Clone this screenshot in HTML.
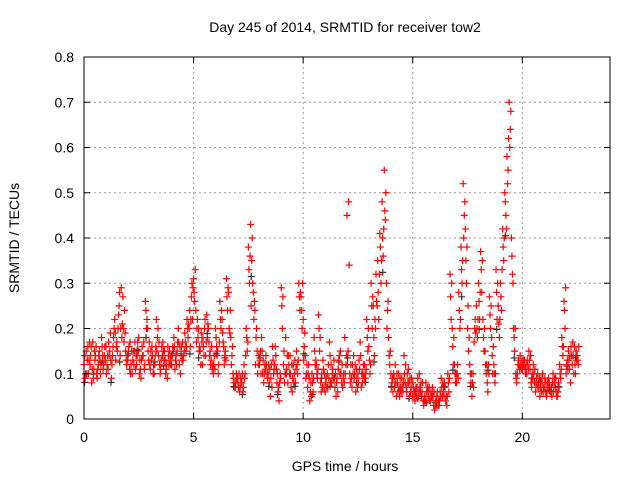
<!DOCTYPE html>
<html><head><meta charset="utf-8"><style>
html,body{margin:0;padding:0;background:#fff;}
svg{display:block;font-family:"Liberation Sans",sans-serif;}
</style></head><body>
<svg id="chart" width="640" height="480" xmlns="http://www.w3.org/2000/svg">
<rect width="640" height="480" fill="#fff"/>
<g id="grid"></g>
<g id="points"></g>
<rect x="84" y="57" width="526" height="362" fill="none" stroke="#000" stroke-width="1"/>
<g id="ticks"></g>
<text x="345" y="32" text-anchor="middle" font-size="14">Day 245 of 2014, SRMTID for receiver tow2</text>
<text x="345" y="471" text-anchor="middle" font-size="14">GPS time / hours</text>
<text transform="translate(19,238) rotate(-90)" text-anchor="middle" font-size="14">SRMTID / TECUs</text>
</svg>
<script>
const xTicks=[0,5,10,15,20];
const yTicks=[0,0.1,0.2,0.3,0.4,0.5,0.6,0.7,0.8];
const yTickLabels=["0","0.1","0.2","0.3","0.4","0.5","0.6","0.7","0.8"];
const tStart=0, tStep=0.1;
const seriesA=[0.12,0.15,0.10,0.14,0.17,0.13,0.09,0.15,0.18,0.12,
0.16,0.11,0.19,0.14,0.22,0.17,0.25,0.29,0.2,0.15,
0.13,0.17,0.1,0.15,0.12,0.18,0.09,0.14,0.26,0.2,
0.12,0.16,0.1,0.22,0.14,0.11,0.17,0.13,0.09,0.15,
0.12,0.18,0.14,0.2,0.1,0.17,0.19,0.22,0.2,0.27,
0.31,0.24,0.18,0.15,0.12,0.2,0.23,0.17,0.13,0.1,
0.2,0.15,0.26,0.22,0.12,0.31,0.28,0.18,0.1,0.07,
0.09,0.06,0.08,0.12,0.2,0.38,0.43,0.3,0.24,0.15,
0.12,0.18,0.08,0.14,0.1,0.05,0.16,0.12,0.08,0.04,
0.29,0.12,0.18,0.08,0.14,0.06,0.1,0.15,0.3,0.27,
0.22,0.14,0.07,0.04,0.1,0.18,0.12,0.23,0.08,0.13,
0.06,0.1,0.17,0.08,0.13,0.05,0.11,0.15,0.07,0.18,
0.45,0.34,0.09,0.14,0.06,0.1,0.17,0.08,0.12,0.22,
0.16,0.3,0.25,0.2,0.35,0.41,0.48,0.55,0.3,0.18,
0.1,0.06,0.12,0.08,0.05,0.09,0.14,0.07,0.11,0.06,
0.08,0.04,0.07,0.1,0.05,0.03,0.08,0.06,0.04,0.07,
0.02,0.05,0.03,0.09,0.06,0.04,0.1,0.32,0.2,0.12,
0.08,0.28,0.38,0.52,0.42,0.2,0.12,0.05,0.17,0.25,
0.3,0.37,0.22,0.15,0.08,0.27,0.18,0.12,0.33,0.25,
0.3,0.42,0.5,0.58,0.7,0.4,0.2,0.1,0.12,0.14,
0.11,0.13,0.1,0.15,0.08,0.12,0.06,0.1,0.05,0.08,
0.07,0.05,0.09,0.06,0.1,0.07,0.05,0.12,0.18,0.26,
0.1,0.15,0.08,0.17,0.12,0.14];
const seriesB=[0.09,0.13,0.17,0.08,0.11,0.16,0.12,0.1,0.14,0.16,
0.12,0.14,0.09,0.18,0.13,0.2,0.14,0.21,0.24,0.12,
0.16,0.12,0.15,0.11,0.17,0.13,0.16,0.11,0.2,0.13,
0.15,0.1,0.14,0.18,0.12,0.16,0.13,0.11,0.14,0.12,
0.16,0.11,0.15,0.12,0.16,0.14,0.15,0.18,0.16,0.22,
0.26,0.2,0.15,0.19,0.16,0.14,0.21,0.15,0.11,0.14,
0.16,0.12,0.2,0.17,0.15,0.24,0.19,0.14,0.08,0.1,
0.07,0.09,0.06,0.1,0.15,0.3,0.35,0.22,0.18,0.12,
0.15,0.1,0.12,0.1,0.08,0.12,0.1,0.14,0.06,0.1,
0.2,0.08,0.11,0.12,0.07,0.12,0.08,0.1,0.24,0.2,
0.16,0.1,0.12,0.08,0.06,0.12,0.09,0.15,0.1,0.07,
0.09,0.12,0.08,0.11,0.07,0.09,0.14,0.08,0.1,0.12,
0.15,0.08,0.12,0.1,0.09,0.13,0.07,0.12,0.09,0.15,
0.1,0.2,0.14,0.26,0.22,0.3,0.36,0.44,0.24,0.12,
0.08,0.09,0.05,0.1,0.07,0.06,0.08,0.1,0.05,0.09,
0.05,0.07,0.05,0.06,0.08,0.05,0.04,0.07,0.05,0.03,
0.04,0.03,0.06,0.05,0.08,0.03,0.06,0.22,0.12,0.08,
0.12,0.2,0.3,0.45,0.3,0.15,0.08,0.1,0.22,0.18,
0.22,0.28,0.15,0.1,0.12,0.2,0.1,0.08,0.22,0.18,
0.24,0.35,0.45,0.55,0.64,0.32,0.15,0.08,0.12,0.11,
0.13,0.1,0.12,0.11,0.1,0.08,0.09,0.07,0.09,0.06,
0.06,0.08,0.07,0.05,0.08,0.06,0.08,0.09,0.14,0.2,
0.13,0.11,0.14,0.1,0.15,0.12];
const seriesC=[0.14,0.1,0.13,0.16,0.09,0.14,0.11,0.13,0.16,0.14,
0.1,0.17,0.13,0.16,0.19,0.15,0.28,0.18,0.17,0.13,
0.15,0.1,0.13,0.17,0.14,0.1,0.13,0.17,0.24,0.15,
0.11,0.14,0.12,0.15,0.17,0.13,0.15,0.1,0.16,0.13,
0.14,0.16,0.12,0.17,0.14,0.13,0.17,0.2,0.24,0.3,
0.28,0.17,0.2,0.12,0.18,0.22,0.18,0.14,0.16,0.12,
0.18,0.1,0.22,0.19,0.14,0.27,0.2,0.12,0.09,0.08,
0.08,0.07,0.1,0.09,0.18,0.33,0.25,0.28,0.12,0.1,
0.13,0.15,0.1,0.12,0.12,0.09,0.13,0.16,0.1,0.08,
0.25,0.15,0.1,0.14,0.1,0.09,0.13,0.12,0.27,0.24,
0.13,0.09,0.1,0.06,0.08,0.15,0.1,0.2,0.06,0.11,
0.08,0.07,0.14,0.1,0.09,0.08,0.13,0.1,0.09,0.1,
0.12,0.1,0.07,0.09,0.11,0.08,0.14,0.1,0.1,0.18,
0.13,0.25,0.18,0.32,0.28,0.38,0.4,0.46,0.2,0.14,
0.07,0.1,0.08,0.06,0.09,0.07,0.1,0.06,0.08,0.07,
0.07,0.06,0.09,0.07,0.06,0.04,0.06,0.05,0.06,0.05,
0.03,0.06,0.04,0.07,0.05,0.05,0.08,0.27,0.16,0.1,
0.1,0.24,0.33,0.4,0.35,0.25,0.1,0.08,0.2,0.2,
0.26,0.33,0.18,0.12,0.06,0.23,0.14,0.1,0.28,0.21,
0.27,0.38,0.48,0.52,0.6,0.36,0.18,0.09,0.13,0.12,
0.12,0.11,0.13,0.13,0.07,0.1,0.08,0.08,0.07,0.1,
0.09,0.06,0.08,0.07,0.06,0.09,0.06,0.1,0.16,0.24,
0.12,0.13,0.16,0.14,0.1,0.13];
const seriesD=[0.1,0.16,0.12,0.11,0.15,0.1,0.14,0.12,0.11,0.13,
0.14,0.15,0.12,0.2,0.16,0.23,0.2,0.27,0.19,0.14,
0.11,0.15,0.12,0.14,0.15,0.11,0.14,0.12,0.22,0.17,
0.13,0.12,0.16,0.2,0.1,0.14,0.15,0.12,0.12,0.14,
0.15,0.13,0.17,0.16,0.13,0.15,0.16,0.21,0.22,0.29,
0.33,0.22,0.16,0.17,0.14,0.17,0.2,0.12,0.12,0.11,
0.14,0.17,0.24,0.16,0.13,0.29,0.24,0.16,0.07,0.09,
0.1,0.08,0.07,0.14,0.17,0.36,0.4,0.26,0.2,0.14,
0.1,0.13,0.11,0.09,0.11,0.07,0.11,0.11,0.07,0.09,
0.27,0.1,0.14,0.1,0.12,0.08,0.11,0.13,0.28,0.3,
0.19,0.12,0.09,0.05,0.09,0.13,0.11,0.18,0.07,0.1,
0.07,0.09,0.12,0.09,0.1,0.06,0.1,0.12,0.08,0.14,
0.48,0.12,0.1,0.12,0.07,0.11,0.1,0.09,0.11,0.2,
0.12,0.27,0.22,0.25,0.32,0.35,0.42,0.5,0.26,0.15,
0.09,0.07,0.1,0.07,0.06,0.08,0.12,0.08,0.09,0.05,
0.06,0.05,0.06,0.08,0.04,0.04,0.07,0.04,0.05,0.06,
0.03,0.04,0.05,0.08,0.07,0.05,0.09,0.3,0.18,0.1,
0.09,0.22,0.35,0.48,0.38,0.18,0.1,0.07,0.19,0.22,
0.28,0.35,0.2,0.12,0.1,0.25,0.16,0.1,0.3,0.22,
0.33,0.4,0.42,0.62,0.68,0.3,0.2,0.1,0.11,0.13,
0.12,0.12,0.11,0.14,0.09,0.11,0.07,0.09,0.06,0.07,
0.08,0.07,0.06,0.08,0.09,0.05,0.07,0.11,0.16,0.29,
0.11,0.14,0.12,0.16,0.13,0.16];
const NS="http://www.w3.org/2000/svg";
const X0=84,X1=610,Y0=419,Y1=57;
function xs(t){return X0+(t/24)*(X1-X0);}
function ys(v){return Y0-(v/0.8)*(Y0-Y1);}
function mk(tag,a){const e=document.createElementNS(NS,tag);for(const k in a)e.setAttribute(k,a[k]);return e;}
const grid=document.getElementById('grid'),ticks=document.getElementById('ticks'),pts=document.getElementById('points');
xTicks.forEach(t=>{const x=xs(t);
 if(t>0){const g=mk('line',{x1:x,x2:x,y1:Y1,y2:Y0,stroke:'#999','stroke-dasharray':'2,3'});
 
 grid.appendChild(g);}
 ticks.appendChild(mk('line',{x1:x,x2:x,y1:Y0,y2:Y0-6,stroke:'#000'}));
 ticks.appendChild(mk('line',{x1:x,x2:x,y1:Y1,y2:Y1+6,stroke:'#000'}));
 const l=mk('text',{x:x,y:Y0+23,'text-anchor':'middle','font-size':14});l.textContent=t;
 
 ticks.appendChild(l);});
yTicks.forEach((v,i)=>{const y=ys(v);
 if(v>0&&v<0.8){const g=mk('line',{x1:X0,x2:X1,y1:y,y2:y,stroke:'#999','stroke-dasharray':'2,3'});
 
 grid.appendChild(g);}
 ticks.appendChild(mk('line',{x1:X0,x2:X0+6,y1:y,y2:y,stroke:'#000'}));
 ticks.appendChild(mk('line',{x1:X1,x2:X1-6,y1:y,y2:y,stroke:'#000'}));
 const l=mk('text',{x:X0-10,y:y+5,'text-anchor':'end','font-size':14});l.textContent=yTickLabels[i];
 
 ticks.appendChild(l);});
function plus(t,v,c){const x=xs(t),y=ys(v);
 const p=mk('path',{d:`M${x-3.5},${y}H${x+3.5}M${x},${y-3.5}V${y+3.5}`,stroke:c,'stroke-width':1.2,fill:'none'});
 
 pts.appendChild(p);}
seriesB.forEach((v,i)=>{if(i%4===0)plus(tStart+i*tStep+0.03,v*0.9,'#333');});
seriesA.forEach((v,i)=>plus(tStart+i*tStep,v,'#ff0000'));
seriesC.forEach((v,i)=>plus(tStart+i*tStep+0.025,v,'#ff0000'));
seriesB.forEach((v,i)=>plus(tStart+i*tStep+0.05,v,'#ff0000'));
seriesD.forEach((v,i)=>plus(tStart+i*tStep+0.075,v,'#ff0000'));
</script>
</body></html>
